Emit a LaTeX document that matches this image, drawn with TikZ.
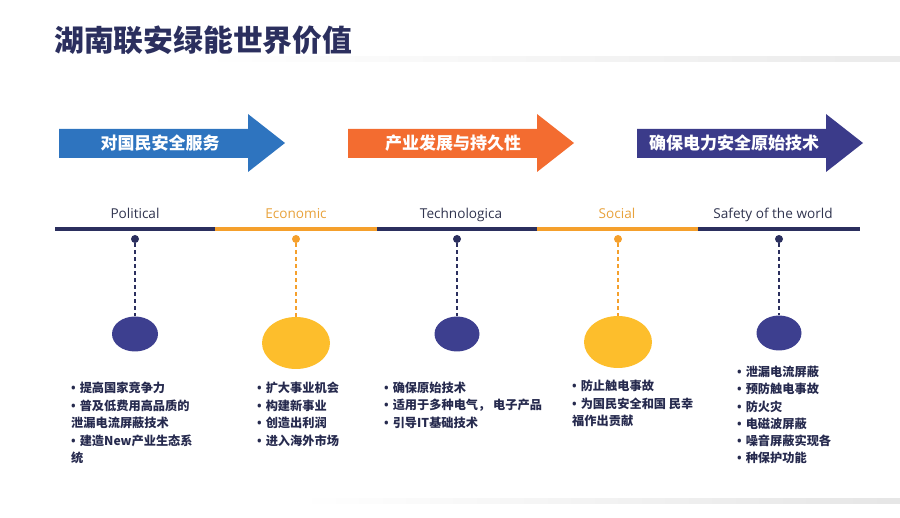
\documentclass[tikz,border=0pt]{standalone}
\usepackage{fontspec}
\setmainfont{Open Sans}
\newfontfamily\cjk{Noto Sans CJK SC}
\newfontfamily\latin{Open Sans}
\usepackage{tikz}
\usetikzlibrary{positioning, shapes.geometric}
\definecolor{navy}{HTML}{2B2F5E}
\definecolor{labnavy}{HTML}{30344F}
\definecolor{orange}{HTML}{F5A02C}
\definecolor{labor}{HTML}{E8A23C}
\definecolor{blobnavy}{HTML}{3D3F8F}
\definecolor{blobyel}{HTML}{FDBE2C}
\definecolor{arrblue}{HTML}{2E74BF}
\definecolor{arror}{HTML}{F36C30}
\definecolor{arrnavy}{HTML}{3B3B8A}
\definecolor{ink}{HTML}{262A4E}
\tikzstyle{dot}=[inner sep=0pt, shape=circle, minimum size=8pt]
\tikzstyle{blob}=[inner sep=0pt, shape=ellipse]
\tikzstyle{seg}=[line width=3.5pt]
\tikzstyle{drop}=[line width=1.2pt, dash pattern=on 4pt off 3pt]
\tikzstyle{arrtxt}=[text=white, font=\cjk\bfseries\fontsize{17}{20}\selectfont]
\tikzstyle{lbl}=[anchor=base, font=\fontsize{13.6}{15}\selectfont]
\tikzstyle{item}=[inner sep=0pt, anchor=west, text=ink, font=\cjk\bfseries\fontsize{12.2}{14}\selectfont]
\newcommand{\itm}{{\latin •}\hspace{4pt}}

\begin{document}
\begin{tikzpicture}[x=1pt, y=-1pt]
\useasboundingbox (0,0) rectangle (900,518);
% the title and the faint bands
\node[text=navy, font=\cjk\bfseries\fontsize{29.8}{32}\selectfont, anchor=west, inner sep=0pt] (title) at (54,40) {湖南联安绿能世界价值};
\shade[left color=white, right color=black!8] (200,57) rectangle (900,62);
\shade[left color=white, right color=black!10] (300,498) rectangle (900,503);
% the three big arrows
\fill[arrblue] (59,129) -- (248,129) -- (248,114) -- (285,143) -- (248,172) -- (248,158) -- (59,158) -- cycle;
\fill[arror] (348,129) -- (537,129) -- (537,114) -- (574,143) -- (537,172) -- (537,158) -- (348,158) -- cycle;
\fill[arrnavy] (637,129) -- (826,129) -- (826,114) -- (863,143) -- (826,172) -- (826,158) -- (637,158) -- cycle;
\node[arrtxt] (arrA) at (160,143) {对国民安全服务};
\node[arrtxt] (arrB) at (453,143) {产业发展与持久性};
\node[arrtxt] (arrC) at (734,143) {确保电力安全原始技术};
%
% the time line
\coordinate (t0) at (55,229);
\coordinate (t1) at (215,229);
\coordinate (t2) at (377,229);
\coordinate (t3) at (537,229);
\coordinate (t4) at (698,229);
\coordinate (t5) at (860,229);
\draw[seg, navy] (t0) -- (t1);
\draw[seg, orange] (t1) -- (t2);
\draw[seg, navy] (t2) -- (t3);
\draw[seg, orange] (t3) -- (t4);
\draw[seg, navy] (t4) -- (t5);
% the labels over the line
\node[lbl, text=labnavy] (labP) at (135,219) {Political};
\node[lbl, text=labor] (labE) at (296,219) {Economic};
\node[lbl, text=labnavy] (labT) at (461,219) {Technologica};
\node[lbl, text=labor] (labS) at (617,219) {Social};
\node[lbl, text=labnavy] (labW) at (773,219) {Safety of the world};
% the small dots
\node[dot, fill=navy] (pol) at (135,239) {};
\node[dot, fill=orange] (eco) at (296,239) {};
\node[dot, fill=navy] (tec) at (457,239) {};
\node[dot, fill=orange] (soc) at (618,239) {};
\node[dot, fill=navy] (saf) at (779,239) {};
% the big blobs
\node[blob, fill=blobnavy, minimum width=46pt, minimum height=35pt] (polB) at (135,334) {};
\node[blob, fill=blobyel, minimum width=68pt, minimum height=52pt] (ecoB) at (296,343) {};
\node[blob, fill=blobnavy, minimum width=45pt, minimum height=35pt] (tecB) at (457,334) {};
\node[blob, fill=blobyel, minimum width=68pt, minimum height=52pt] (socB) at (618,342) {};
\node[blob, fill=blobnavy, minimum width=45pt, minimum height=35pt] (safB) at (779,333) {};
% the dashed drops
\draw[drop, navy] (pol) -- (polB);
\draw[drop, orange] (eco) -- (ecoB);
\draw[drop, navy] (tec) -- (tecB);
\draw[drop, orange] (soc) -- (socB);
\draw[drop, navy] (saf) -- (safB);
%
% the lists
\foreach \t [count=\i from 0] in {\itm 提高国家竞争力, \itm 普及低费用高品质的, 泄漏电流屏蔽技术, \itm 建造New产业生态系, 统}
  \node[item] (pol\i) at (71,388+17.5*\i) {\t};
\foreach \t [count=\i from 0] in {\itm 扩大事业机会, \itm 构建新事业, \itm 创造出利润, \itm 进入海外市场}
  \node[item] (eco\i) at (257,388+17.5*\i) {\t};
\foreach \t [count=\i from 0] in {\itm 确保原始技术, \itm 适用于多种电气， 电子产品, \itm 引导IT基础技术}
  \node[item] (tec\i) at (384,388+17.5*\i) {\t};
\foreach \t [count=\i from 0] in {\itm 防止触电事故, \itm 为国民安全和国 民幸, 福作出贡献}
  \node[item] (soc\i) at (572,386+17.5*\i) {\t};
\foreach \t [count=\i from 0] in {\itm 泄漏电流屏蔽, \itm 预防触电事故, \itm 防火灾, \itm 电磁波屏蔽, \itm 噪音屏蔽实现各, \itm 种保护功能}
  \node[item] (saf\i) at (737,372+17.2*\i) {\t};
\end{tikzpicture}
\end{document}
